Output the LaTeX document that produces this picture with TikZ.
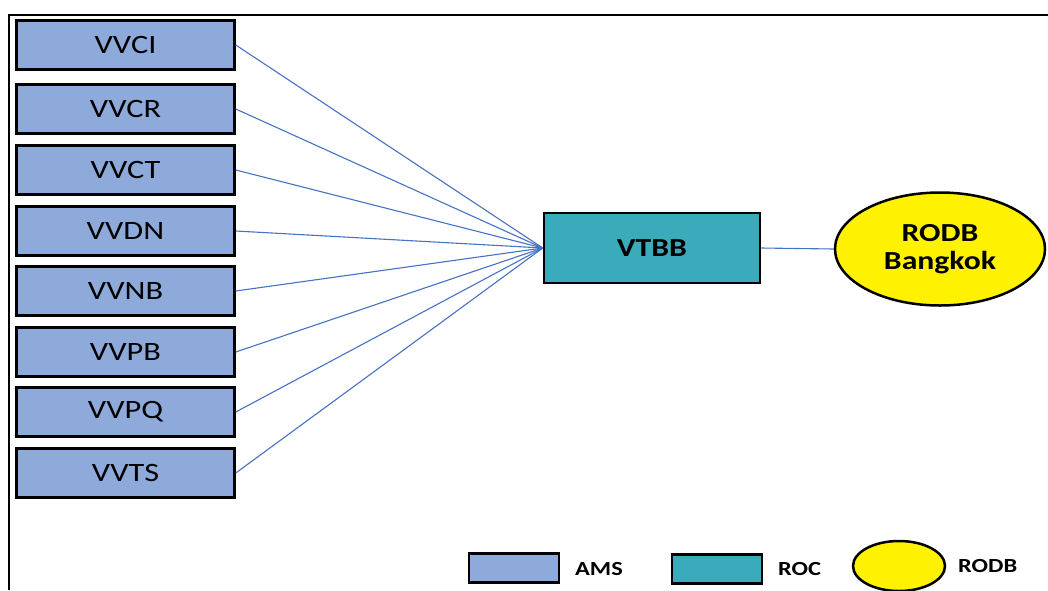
\documentclass[tikz,border=0pt]{standalone}
\usepackage{fontspec}
\setmainfont{Carlito}
\usetikzlibrary{shapes.geometric}
\definecolor{amsblue}{HTML}{8EAADB}
\definecolor{rocteal}{HTML}{3AABBB}
\definecolor{linkblue}{HTML}{4472C4}
\newcommand{\wide}[1]{\scalebox{1.22}[1]{#1}}
\begin{document}
\begin{tikzpicture}[x=1pt,y=-1pt,
  ams/.style={draw=black,line width=2.5pt,fill=amsblue,minimum width=218pt,minimum height=49pt,inner sep=0pt,font=\fontsize{26.5}{28}\selectfont},
  roc/.style={draw=black,line width=2.5pt,fill=rocteal,minimum width=216pt,minimum height=70pt,inner sep=0pt,font=\fontsize{26}{28}\selectfont\bfseries},
  rodb/.style={draw=black,line width=2.5pt,fill=yellow,ellipse,inner sep=0pt},
  link/.style={draw=linkblue,line width=1.1pt},
  leg/.style={font=\fontsize{20}{22}\selectfont\bfseries,inner sep=0pt}]
\useasboundingbox (0,0) rectangle (1048,590);
\coordinate (f1) at (1048,15);
\coordinate (f2) at (9,15);
\coordinate (f3) at (9,590);
\draw[line width=2.5pt] (f1) -- (f2) -- (f3);
\node[ams] (vvci) at (125.5,45) {\wide{VVCI}};
\node[ams] (vvcr) at (125.5,109) {\wide{VVCR}};
\node[ams] (vvct) at (125.5,170) {\wide{VVCT}};
\node[ams] (vvdn) at (125.5,231) {\wide{VVDN}};
\node[ams] (vvnb) at (125.5,291) {\wide{VVNB}};
\node[ams] (vvpb) at (125.5,352) {\wide{VVPB}};
\node[ams] (vvpq) at (125.5,412) {\wide{VVPQ}};
\node[ams] (vvts) at (125.5,473) {\wide{VVTS}};
\node[roc] (vtbb) at (652,248) {\wide{VTBB}};
\node[rodb,minimum width=210pt,minimum height=113pt,align=center,font=\fontsize{26}{28.5}\selectfont\bfseries] (bkk) at (940,249) {\wide{RODB}\\\wide{Bangkok}};
\foreach \n in {vvci,vvcr,vvct,vvdn,vvnb,vvpb,vvpq,vvts}
  \draw[link] (\n.east) -- (vtbb.west);
\draw[link] (vtbb.east) -- (bkk.west);
% legend
\node[draw=black,line width=2.5pt,fill=amsblue,minimum width=90pt,minimum height=29pt,inner sep=0pt] (lams) at (514,568) {};
\node[leg,anchor=west] (tams) at (575,569) {\wide{AMS}};
\node[draw=black,line width=2.5pt,fill=rocteal,minimum width=90pt,minimum height=29pt,inner sep=0pt] (lroc) at (717,569) {};
\node[leg,anchor=west] (troc) at (778,569) {\wide{ROC}};
\node[rodb,minimum width=92pt,minimum height=50pt] (lrodb) at (899,566) {};
\node[leg,anchor=west] (trodb) at (958,566) {\wide{RODB}};
\end{tikzpicture}
\end{document}
